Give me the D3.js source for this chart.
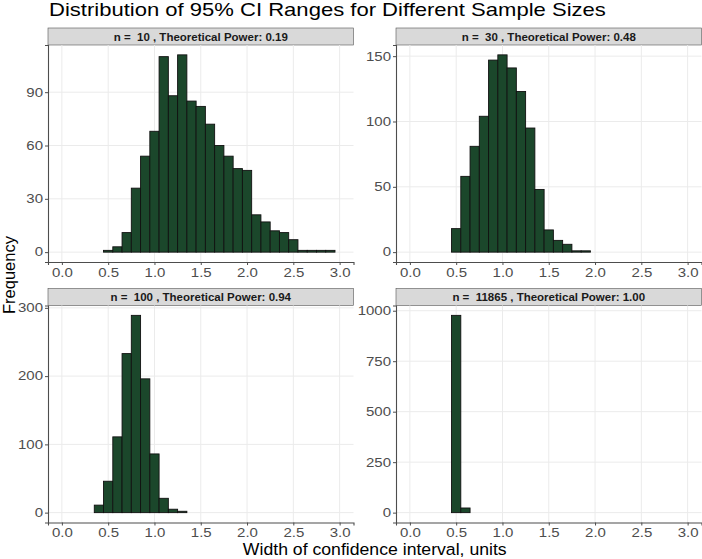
<!DOCTYPE html>
<html>
<head>
<meta charset="utf-8">
<script src="https://cdn.jsdelivr.net/npm/d3@7"></script>
<style>
  body { margin: 0; background: #fff; }
  text { font-family: "Liberation Sans", Arial, Helvetica, sans-serif; }
</style>
</head>
<body>
<script>
// panel labels
var sampleSizes = ["10", "30", "100", "11865"];
var powers = ["0.19", "0.48", "0.94", "1.00"];

// histogram bins: width 0.1, first bin left edge per panel
var binWidth = 0.1;
var binStarts = [0.45, 0.45, 0.35, 0.45];

// counts per bin
var counts_n10 = [1, 3, 11, 36, 54, 68, 110, 88, 111, 85, 82, 72, 60, 54, 47, 46, 21, 17, 12, 11, 7, 1, 1, 1, 1];
var counts_n30 = [18, 58, 81, 104, 147, 151, 141, 123, 95, 48, 17, 9, 6, 1, 1];
var counts_n100 = [11, 46, 111, 233, 289, 196, 86, 21, 5, 2];
var counts_n11865 = [977, 23];

// axis ticks
var xTicks = [0, 0.5, 1, 1.5, 2, 2.5, 3];
var yTicks_n10 = [0, 30, 60, 90];
var yTicks_n30 = [0, 50, 100, 150];
var yTicks_n100 = [0, 100, 200, 300];
var yTicks_n11865 = [0, 250, 500, 750, 1000];

var allCounts = [counts_n10, counts_n30, counts_n100, counts_n11865];
var allYTicks = [yTicks_n10, yTicks_n30, yTicks_n100, yTicks_n11865];

var W = 702, H = 559;
var panelW = 305.5, panelH = 217, stripH = 17;
var colX = [48, 396];
var rowY = [28, 288.5]; // strip tops

// the reference text is drawn a bit wide
var tickSX = 1.25;

var svg = d3.select("body").append("svg")
    .attr("width", W)
    .attr("height", H);

// title
svg.append("text")
    .attr("transform", "translate(49,16) scale(1.26,1)")
    .attr("font-size", 17.5)
    .attr("fill", "#000")
    .text("Distribution of 95% CI Ranges for Different Sample Sizes");

var x = d3.scaleLinear().domain([-0.15, 3.15]).range([0, panelW]);

sampleSizes.forEach(function(n, i) {
    var counts = allCounts[i];
    var col = i % 2, row = Math.floor(i / 2);
    var px = colX[col], py = rowY[row] + stripH;
    var maxC = d3.max(counts);
    var y = d3.scaleLinear()
        .domain([-0.05 * maxC, 1.05 * maxC])
        .range([panelH, 0]);

    // strip
    var strip = svg.append("g").attr("transform", "translate(" + px + "," + rowY[row] + ")");
    strip.append("rect")
        .attr("x", 0).attr("y", 0)
        .attr("width", panelW).attr("height", stripH)
        .attr("fill", "#D9D9D9")
        .attr("stroke", "#555")
        .attr("stroke-width", 0.6);
    strip.append("text")
        .attr("x", panelW / 2)
        .attr("y", stripH / 2 + 4)
        .attr("text-anchor", "middle")
        .attr("font-size", 11.5)
        .attr("font-weight", "bold")
        .attr("fill", "#1A1A1A")
        .style("white-space", "pre")
        .text("n =  " + n + " , Theoretical Power: " + powers[i]);

    var g = svg.append("g").attr("transform", "translate(" + px + "," + py + ")");

    // grid
    g.selectAll(".vgrid").data(xTicks).enter().append("line")
        .attr("x1", function(d) { return x(d); })
        .attr("x2", function(d) { return x(d); })
        .attr("y1", 0).attr("y2", panelH)
        .attr("stroke", "#EBEBEB").attr("stroke-width", 1);
    g.selectAll(".hgrid").data(allYTicks[i]).enter().append("line")
        .attr("y1", function(d) { return y(d); })
        .attr("y2", function(d) { return y(d); })
        .attr("x1", 0).attr("x2", panelW)
        .attr("stroke", "#EBEBEB").attr("stroke-width", 1);

    // bars
    g.selectAll(".bar").data(counts).enter().append("rect")
        .attr("x", function(d, j) { return x(binStarts[i] + j * binWidth); })
        .attr("width", function(d, j) { return x(binStarts[i] + (j + 1) * binWidth) - x(binStarts[i] + j * binWidth); })
        .attr("y", function(d) { return y(d); })
        .attr("height", function(d) { return y(0) - y(d); })
        .attr("fill", "#1B472B")
        .attr("stroke", "#111")
        .attr("stroke-width", 0.9);

    // axes
    var xAxis = d3.axisBottom(x).tickValues(xTicks).tickFormat(d3.format(".1f")).tickSizeOuter(0).tickSize(3).tickPadding(3);
    var yAxis = d3.axisLeft(y).tickValues(allYTicks[i]).tickFormat(d3.format("d")).tickSizeOuter(0).tickSize(3).tickPadding(2);

    var gx = g.append("g").attr("transform", "translate(0," + panelH + ")").call(xAxis);
    var gy = g.append("g").call(yAxis);
    [gx, gy].forEach(function(a) {
        a.select(".domain").attr("stroke", "#4D4D4D").attr("stroke-width", 1.1);
        a.selectAll(".tick line").attr("stroke", "#4D4D4D");
        a.selectAll(".tick text").attr("fill", "#4D4D4D").attr("font-size", 12)
            .attr("font-family", "Liberation Sans, Arial, sans-serif")
            .attr("transform", "scale(" + tickSX + ",1)");
    });
    gy.selectAll(".tick text").attr("x", -5 / tickSX);
});

// axis titles
svg.append("text")
    .attr("transform", "translate(" + ((colX[0] + colX[1] + panelW) / 2) + ",555) scale(1.07,1)")
    .attr("text-anchor", "middle")
    .attr("font-size", 16.5)
    .text("Width of confidence interval, units");

svg.append("text")
    .attr("transform", "translate(15,275) rotate(-90)")
    .attr("text-anchor", "middle")
    .attr("font-size", 16.5)
    .text("Frequency");
</script>
</body>
</html>
